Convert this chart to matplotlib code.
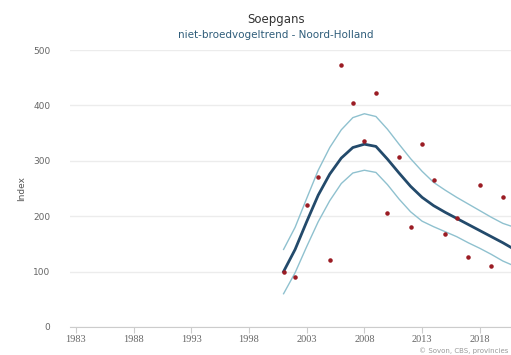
import matplotlib.pyplot as plt

years = list(range(2001, 2021))
counts = [99, 91, 220, 270, 120, 473, 405, 336, 422, 205,
          306, 181, 330, 265, 168, 197, 126, 257, 110, 235]

trend_years = list(range(2001, 2022))
trend = [100, 140, 190, 238, 276, 305, 324, 330, 326, 303,
         278, 254, 234, 219, 207, 196, 185, 174, 163, 152, 140]
upper = [140, 180, 232, 283, 324, 356, 378, 385, 380, 357,
         330, 304, 281, 261, 247, 234, 222, 210, 198, 187, 180]
lower = [60, 98, 145, 190, 228, 259, 278, 283, 279, 257,
         231, 208, 191, 181, 172, 163, 152, 142, 131, 119, 110]

xticks = [1983, 1988, 1993, 1998, 2003, 2008, 2013, 2018]
yticks = [0, 100, 200, 300, 400, 500]

fig = plt.figure(figsize=(5.11, 3.55), dpi=100)
ax = fig.add_axes([0.137, 0.079, 0.863, 0.78])

ax.plot(trend_years, upper, color='#8fc1cf', lw=1.0)
ax.plot(trend_years, lower, color='#8fc1cf', lw=1.0)
ax.plot(trend_years, trend, color='#234a6b', lw=2.0)
ax.scatter(years, counts, s=5, color='#9b1c24', zorder=3)

ax.set_xlim(1982.5, 2020.7)
ax.set_ylim(0, 500)
ax.set_xticks(xticks)
ax.set_yticks(yticks)
ax.set_xticklabels([str(t) for t in xticks], family='Liberation Serif',
                   fontsize=7.5, color='#666666')
ax.set_yticklabels([str(t) for t in yticks], fontsize=6.5, color='#666666')
ax.tick_params(axis='y', length=0, pad=14)
ax.tick_params(axis='x', length=4, color='#cccccc', pad=2)
ax.grid(axis='y', color='#ececec', lw=1)
ax.set_axisbelow(True)
for s in ['top', 'right', 'left']:
    ax.spines[s].set_visible(False)
ax.spines['bottom'].set_color('#cccccc')
ax.set_ylabel('Index', fontsize=6.5, color='#555555', labelpad=5)

fig.text(0.54, 0.935, 'Soepgans', ha='center', fontsize=8.5, color='#333333')
fig.text(0.54, 0.893, 'niet-broedvogeltrend - Noord-Holland', ha='center',
         fontsize=7.5, color='#2f5d7a')
fig.text(0.995, 0.005, '© Sovon, CBS, provincies', ha='right', fontsize=5,
         color='#999999')

fig.savefig('out.png', dpi=100)
